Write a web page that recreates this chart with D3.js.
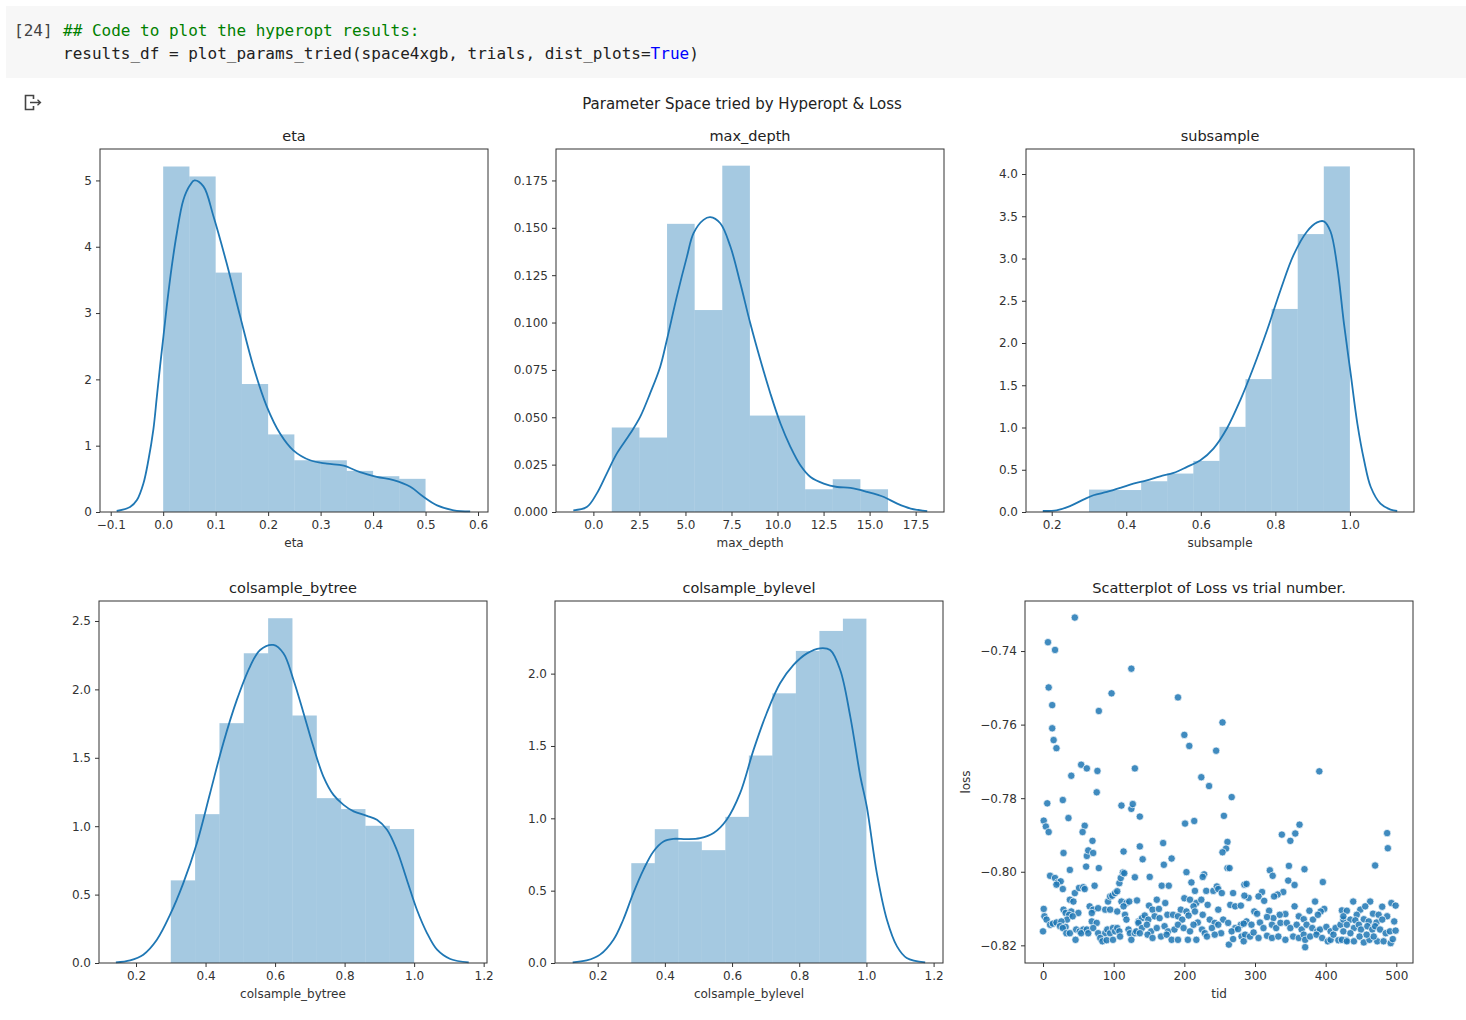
<!DOCTYPE html>
<html><head><meta charset="utf-8">
<script src="https://cdn.jsdelivr.net/npm/d3@7"></script>
<style>
body{margin:0;background:#fff;}
svg{display:block;}
</style></head><body><svg id="c" width="1466" height="1020"></svg>
<script>
// ---------------- DATA ----------------
const etaBins = [0,0.05,0.1,0.15,0.2,0.25,0.3,0.35,0.4,0.45,0.5];
const etaDensity = [5.21,5.06,3.61,1.93,1.17,0.78,0.78,0.62,0.54,0.50];
const etaKdeX = [-0.0886,-0.0631,-0.050,-0.0377,-0.0282,-0.0186,-0.0123,-0.0059,0.0005,0.0068,0.0163,0.0259,0.0386,0.0513,0.0596,0.0767,0.0958,0.121,0.1467,0.172,0.1975,0.223,0.248,0.28,0.312,0.344,0.375,0.407,0.439,0.471,0.496,0.522,0.5536,0.585];
const etaKdeY = [0.015,0.075,0.18,0.43,0.78,1.25,1.72,2.2,2.65,3.10,3.70,4.20,4.71,4.93,5.0,4.91,4.46,3.75,2.95,2.19,1.59,1.18,0.93,0.78,0.73,0.70,0.60,0.53,0.48,0.38,0.23,0.10,0.025,0.01];

const depthBins = [1,2.5,4,5.5,7,8.5,10,11.5,13,14.5,16];
const depthDensity = [0.0446,0.0393,0.1521,0.1066,0.1828,0.0509,0.0509,0.0120,0.0173,0.0120];
const depthKdeX = [-1.09,-0.36,0.18,0.725,1.27,2.0,2.54,3.08,3.63,3.99,4.53,5.08,5.44,5.98,6.35,6.89,7.44,7.98,8.52,9.07,9.61,10.16,10.70,11.24,11.79,12.51,13.24,13.96,14.87,15.78,16.5,17.23,18.13];
const depthKdeY = [0.0009,0.0026,0.0097,0.0203,0.0308,0.0414,0.0502,0.0626,0.0767,0.0908,0.1137,0.1348,0.1472,0.1542,0.1556,0.1524,0.1401,0.1207,0.0996,0.0802,0.0626,0.0467,0.0344,0.0247,0.0185,0.0150,0.0132,0.0127,0.0106,0.0079,0.0044,0.0018,0.0005];

const subBins = [0.3,0.37,0.44,0.51,0.58,0.65,0.72,0.79,0.86,0.93,1.0];
const subDensity = [0.265,0.26,0.364,0.455,0.605,1.008,1.573,2.403,3.289,4.09];
const subKdeX = [0.176,0.213,0.249,0.285,0.312,0.348,0.384,0.419,0.455,0.491,0.527,0.563,0.599,0.634,0.67,0.706,0.742,0.778,0.814,0.849,0.885,0.912,0.93,0.948,0.966,0.984,1.002,1.02,1.038,1.056,1.082,1.109,1.127];
const subKdeY = [0.012,0.02,0.07,0.146,0.198,0.237,0.285,0.336,0.375,0.423,0.462,0.534,0.613,0.751,0.988,1.324,1.719,2.154,2.628,3.043,3.32,3.427,3.44,3.32,2.905,2.233,1.64,1.047,0.613,0.296,0.099,0.028,0.012];

const treeBins = [0.3,0.37,0.44,0.51,0.58,0.65,0.72,0.79,0.86,0.93,1.0];
const treeDensity = [0.604,1.088,1.753,2.264,2.52,1.809,1.205,1.125,1.003,0.979];
const treeKdeX = [0.142,0.183,0.221,0.26,0.298,0.336,0.375,0.413,0.451,0.49,0.528,0.557,0.595,0.624,0.653,0.682,0.71,0.739,0.768,0.797,0.826,0.864,0.893,0.922,0.95,0.979,1.008,1.037,1.066,1.104,1.157];
const treeKdeY = [0.005,0.02,0.061,0.17,0.353,0.584,0.876,1.241,1.607,1.923,2.167,2.288,2.325,2.264,2.069,1.826,1.582,1.363,1.229,1.156,1.108,1.076,1.047,0.974,0.828,0.609,0.389,0.219,0.097,0.029,0.005];

const levelBins = [0.3,0.37,0.44,0.51,0.58,0.65,0.72,0.79,0.86,0.93,1.0];
const levelDensity = [0.69,0.925,0.84,0.78,1.01,1.434,1.864,2.157,2.295,2.38];
const levelKdeX = [0.1255,0.167,0.207,0.247,0.276,0.306,0.336,0.366,0.396,0.425,0.465,0.505,0.545,0.584,0.624,0.664,0.703,0.743,0.783,0.823,0.862,0.892,0.922,0.952,0.982,1.001,1.031,1.061,1.091,1.12,1.175];
const levelKdeY = [0.005,0.018,0.058,0.161,0.299,0.483,0.644,0.771,0.84,0.858,0.856,0.863,0.898,0.99,1.174,1.473,1.726,1.933,2.06,2.14,2.175,2.163,2.025,1.703,1.289,1.082,0.621,0.299,0.115,0.035,0.005];

// trial id / loss pairs
const lossPoints = [
[45,-0.7309],[7,-0.7376],[17,-0.7397],[125,-0.7448],[8,-0.7499],[13,-0.7547],[97,-0.7515],[79,-0.7563],[13,-0.7610],[15,-0.7642],[19,-0.7664],[54,-0.7709],[62,-0.7719],[77,-0.7726],[40,-0.7739],[130,-0.7719],[76,-0.7784],[28,-0.7805],[6,-0.7814],[111,-0.7820],[125,-0.7829],[127,-0.7816],[1,-0.7861],[4,-0.7877],[8,-0.7892],[36,-0.7854],[59,-0.7875],[56,-0.7892],[70,-0.7916],[29,-0.7949],[62,-0.7957],[64,-0.7942],[71,-0.7949],[137,-0.7931],[137,-0.7850],[114,-0.7945],[38,-0.7995],[61,-0.7986],[79,-0.7990],[130,-0.8015],[10,-0.8011],[17,-0.8017],[21,-0.8029],[25,-0.8026],[19,-0.8035],[28,-0.8047],[45,-0.8058],[51,-0.8044],[57,-0.8042],[59,-0.8047],[73,-0.8038],[108,-0.8031],[110,-0.8017],[113,-0.8002],[115,-0.8004],[38,-0.8076],[43,-0.8081],[92,-0.8081],[95,-0.8067],[98,-0.8065],[102,-0.8058],[105,-0.8053],[111,-0.8081],[118,-0.8085],[122,-0.8081],[133,-0.8078],[1,-0.8101],[2,-0.8121],[5,-0.8130],[29,-0.8103],[32,-0.8112],[40,-0.8108],[50,-0.8112],[37,-0.8117],[34,-0.8130],[66,-0.8094],[71,-0.8103],[69,-0.8112],[78,-0.8099],[88,-0.8103],[95,-0.8103],[105,-0.8108],[114,-0.8094],[116,-0.8117],[118,-0.8130],[135,-0.8135],[42,-0.8121],[69,-0.8135],[76,-0.8139],[10,-0.8144],[14,-0.8141],[19,-0.8138],[26,-0.8135],[24,-0.8148],[32,-0.8150],[28,-0.8153],[0,-0.8162],[33,-0.8167],[38,-0.8167],[47,-0.8157],[52,-0.8162],[57,-0.8157],[54,-0.8167],[62,-0.8157],[64,-0.8167],[71,-0.8153],[78,-0.8167],[88,-0.8167],[91,-0.8157],[95,-0.8167],[99,-0.8153],[102,-0.8162],[105,-0.8153],[108,-0.8162],[109,-0.8176],[121,-0.8157],[123,-0.8167],[130,-0.8167],[132,-0.8162],[46,-0.8185],[81,-0.8180],[84,-0.8189],[90,-0.8186],[99,-0.8185],[125,-0.8185],
[191,-0.7526],[254,-0.7594],[200,-0.7628],[207,-0.7658],[245,-0.7671],[224,-0.7743],[235,-0.7767],[267,-0.7797],[201,-0.7869],[214,-0.7862],[256,-0.7848],[170,-0.7922],[261,-0.7919],[259,-0.7937],[254,-0.7947],[141,-0.7966],[182,-0.7964],[171,-0.7981],[151,-0.8014],[203,-0.8001],[228,-0.8007],[226,-0.8014],[261,-0.7990],[264,-0.7990],[210,-0.8029],[168,-0.8038],[178,-0.8038],[215,-0.8052],[231,-0.8052],[241,-0.8052],[246,-0.8040],[248,-0.8047],[253,-0.8058],[269,-0.8058],[285,-0.8035],[161,-0.8076],[173,-0.8085],[200,-0.8072],[208,-0.8076],[217,-0.8085],[224,-0.8076],[233,-0.8090],[248,-0.8103],[265,-0.8090],[272,-0.8094],[280,-0.8092],[150,-0.8092],[155,-0.8103],[164,-0.8101],[195,-0.8103],[203,-0.8108],[213,-0.8094],[215,-0.8108],[140,-0.8126],[144,-0.8119],[149,-0.8130],[158,-0.8121],[165,-0.8126],[176,-0.8117],[184,-0.8117],[191,-0.8121],[197,-0.8130],[206,-0.8119],[219,-0.8138],[226,-0.8117],[236,-0.8130],[243,-0.8139],[255,-0.8130],[262,-0.8139],[272,-0.8153],[280,-0.8144],[135,-0.8139],[140,-0.8153],[147,-0.8144],[153,-0.8162],[161,-0.8153],[172,-0.8148],[177,-0.8162],[186,-0.8157],[191,-0.8144],[199,-0.8153],[208,-0.8162],[213,-0.8144],[225,-0.8157],[229,-0.8167],[239,-0.8153],[248,-0.8144],[252,-0.8167],[267,-0.8162],[276,-0.8156],[148,-0.8171],[155,-0.8180],[167,-0.8176],[175,-0.8171],[182,-0.8185],[191,-0.8185],[205,-0.8185],[217,-0.8185],[232,-0.8176],[243,-0.8171],[263,-0.8198],[269,-0.8183],[281,-0.8176],[137,-0.8167],
[391,-0.7727],[338,-0.7899],[357,-0.7896],[363,-0.7872],[350,-0.7916],[348,-0.7984],[321,-0.7996],[325,-0.8011],[370,-0.7993],[396,-0.8028],[288,-0.8033],[347,-0.8024],[356,-0.8036],[340,-0.8055],[332,-0.8062],[327,-0.8067],[310,-0.8055],[305,-0.8067],[313,-0.8079],[291,-0.8071],[285,-0.8065],[385,-0.8081],[356,-0.8094],[377,-0.8106],[398,-0.8101],[393,-0.8108],[423,-0.8105],[320,-0.8106],[299,-0.8108],[303,-0.8114],[343,-0.8115],[335,-0.8117],[326,-0.8126],[317,-0.8123],[362,-0.8121],[369,-0.8129],[382,-0.8130],[389,-0.8117],[288,-0.8135],[284,-0.8141],[295,-0.8144],[307,-0.8138],[312,-0.8153],[324,-0.8144],[330,-0.8153],[336,-0.8139],[345,-0.8139],[350,-0.8153],[359,-0.8144],[366,-0.8157],[373,-0.8144],[381,-0.8153],[388,-0.8162],[392,-0.8157],[401,-0.8150],[407,-0.8162],[414,-0.8153],[421,-0.8144],[425,-0.8130],[286,-0.8171],[293,-0.8176],[298,-0.8165],[305,-0.8180],[317,-0.8174],[324,-0.8180],[333,-0.8176],[343,-0.8185],[354,-0.8176],[362,-0.8180],[369,-0.8171],[371,-0.8185],[371,-0.8205],[378,-0.8176],[387,-0.8171],[395,-0.8180],[403,-0.8189],[407,-0.8185],[411,-0.8171],[418,-0.8186],[429,-0.8186],[284,-0.8189],
[487,-0.7895],[488,-0.7936],[470,-0.7983],[439,-0.8081],[463,-0.8081],[493,-0.8085],[499,-0.8092],[480,-0.8095],[430,-0.8106],[449,-0.8103],[456,-0.8094],[444,-0.8117],[467,-0.8114],[475,-0.8117],[487,-0.8121],[425,-0.8121],[435,-0.8130],[442,-0.8132],[454,-0.8129],[461,-0.8135],[472,-0.8138],[480,-0.8130],[497,-0.8135],[430,-0.8144],[440,-0.8153],[447,-0.8144],[450,-0.8157],[459,-0.8148],[466,-0.8157],[470,-0.8148],[477,-0.8157],[485,-0.8167],[491,-0.8162],[499,-0.8160],[425,-0.8162],[435,-0.8167],[423,-0.8185],[430,-0.8189],[440,-0.8189],[454,-0.8192],[462,-0.8185],[473,-0.8189],[482,-0.8189],[492,-0.8194],[495,-0.8183],[448,-0.8176],[468,-0.8176],[458,-0.8171]
];

// tick values
const etaXTicks = [-0.1,0,0.1,0.2,0.3,0.4,0.5,0.6];
const etaYTicks = [0,1,2,3,4,5];
const depthXTicks = [0,2.5,5,7.5,10,12.5,15,17.5];
const depthYTicks = [0,0.025,0.05,0.075,0.1,0.125,0.15,0.175];
const subXTicks = [0.2,0.4,0.6,0.8,1.0];
const subYTicks = [0,0.5,1,1.5,2,2.5,3,3.5,4];
const treeXTicks = [0.2,0.4,0.6,0.8,1.0,1.2];
const treeYTicks = [0,0.5,1,1.5,2,2.5];
const levelXTicks = [0.2,0.4,0.6,0.8,1.0,1.2];
const levelYTicks = [0,0.5,1,1.5,2];
const tidTicks = [0,100,200,300,400,500];
const lossTicks = [-0.82,-0.80,-0.78,-0.76,-0.74];

const suptitle = "Parameter Space tried by Hyperopt & Loss";
const codeLine1 = "## Code to plot the hyperopt results:";

// ---------------- DRAW ----------------
const svg = d3.select('#c');
const FONT = '"DejaVu Sans", sans-serif';
const MONO = '"DejaVu Sans Mono", "Liberation Mono", monospace';
const BLUE = '#1f77b4';

// notebook cell
svg.append('rect').attr('x',6).attr('y',6).attr('width',1460).attr('height',72).attr('fill','#f7f7f7');
svg.append('text').attr('x',14).attr('y',36).style('font-family',MONO).style('font-size','16px').attr('fill','#424242').text('[24]');
svg.append('text').attr('x',63).attr('y',36).style('font-family',MONO).style('font-size','16px').attr('fill','#008000').attr('xml:space','preserve').text(codeLine1);
const l2 = svg.append('text').attr('x',63).attr('y',59).style('font-family',MONO).style('font-size','16px').attr('fill','#212121').attr('xml:space','preserve');
l2.append('tspan').text('results_df = plot_params_tried(space4xgb, trials, dist_plots=');
l2.append('tspan').attr('fill','#0000ff').text('True');
l2.append('tspan').text(')');
// output icon
svg.append('path').attr('d','M33.5,99 V95.5 H25.5 V109.5 H33.5 V106').attr('fill','none').attr('stroke','#444').attr('stroke-width',1.6);
svg.append('path').attr('d','M30,102.5 H40.5 M37.5,99.8 L40.5,102.5 L37.5,105.2').attr('fill','none').attr('stroke','#444').attr('stroke-width',1.3);

// suptitle
svg.append('text').attr('x',742).attr('y',109).attr('text-anchor','middle').style('font-family',FONT).style('font-size','15px').attr('fill','#222').text(suptitle);

const f1 = d3.format('.1f'), f3 = d3.format('.3f'), fd = d3.format('d'), f2 = d3.format('.2f');

const panels = [
  {title:'eta', xlabel:'eta', bins:etaBins, dens:etaDensity, kx:etaKdeX, ky:etaKdeY, xdom:[-0.1204,0.619], ydom:[0,5.474], xt:etaXTicks, yt:etaYTicks, xf:f1, yf:fd, box:[100,149,388,363]},
  {title:'max_depth', xlabel:'max_depth', bins:depthBins, dens:depthDensity, kx:depthKdeX, ky:depthKdeY, xdom:[-2.03,19.04], ydom:[0,0.1916], xt:depthXTicks, yt:depthYTicks, xf:f1, yf:f3, box:[556,149,388,363]},
  {title:'subsample', xlabel:'subsample', bins:subBins, dens:subDensity, kx:subKdeX, ky:subKdeY, xdom:[0.131,1.172], ydom:[0,4.296], xt:subXTicks, yt:subYTicks, xf:f1, yf:f1, box:[1026,149,388,363]},
  {title:'colsample_bytree', xlabel:'colsample_bytree', bins:treeBins, dens:treeDensity, kx:treeKdeX, ky:treeKdeY, xdom:[0.0935,1.2096], ydom:[0,2.646], xt:treeXTicks, yt:treeYTicks, xf:f1, yf:f1, box:[99,601,388,362]},
  {title:'colsample_bylevel', xlabel:'colsample_bylevel', bins:levelBins, dens:levelDensity, kx:levelKdeX, ky:levelKdeY, xdom:[0.0729,1.228], ydom:[0,2.502], xt:levelXTicks, yt:levelYTicks, xf:f1, yf:f1, box:[555,601,388,362]}
];

function frame(g, x, y, p){
  const [L,T,W,H] = p.box;
  const ax = g.append('g').attr('transform',`translate(0,${T+H})`)
    .call(d3.axisBottom(x).tickValues(p.xt).tickFormat(p.xf).tickSize(4).tickPadding(4.5));
  const ay = g.append('g').attr('transform',`translate(${L},0)`)
    .call(d3.axisLeft(y).tickValues(p.yt).tickFormat(p.yf).tickSize(4).tickPadding(4));
  [ax,ay].forEach(a=>{
    a.select('.domain').remove();
    a.selectAll('line').attr('stroke','#333').attr('stroke-width',1);
    a.selectAll('text').attr('fill','#333').style('font-size','12px').style('font-family',FONT);
  });
  g.append('rect').attr('x',L).attr('y',T).attr('width',W).attr('height',H)
    .attr('fill','none').attr('stroke','#333').attr('stroke-width',1);
  g.append('text').attr('x',L+W/2).attr('y',T-8).attr('text-anchor','middle')
    .style('font-family',FONT).style('font-size','14.5px').attr('fill','#222').text(p.title);
  g.append('text').attr('x',L+W/2).attr('y',T+H+35).attr('text-anchor','middle')
    .style('font-family',FONT).style('font-size','12px').attr('fill','#333').text(p.xlabel);
}

panels.forEach(p=>{
  const [L,T,W,H] = p.box;
  const x = d3.scaleLinear().domain(p.xdom).range([L,L+W]);
  const y = d3.scaleLinear().domain(p.ydom).range([T+H,T]);
  const g = svg.append('g');
  g.selectAll('rect.bar').data(p.dens).join('rect').attr('class','bar')
    .attr('x',(d,i)=>x(p.bins[i])).attr('width',(d,i)=>x(p.bins[i+1])-x(p.bins[i]))
    .attr('y',d=>y(d)).attr('height',d=>y(0)-y(d))
    .attr('fill',BLUE).attr('fill-opacity',0.4);
  const line = d3.line().x(d=>x(d[0])).y(d=>y(d[1])).curve(d3.curveCatmullRom.alpha(0.5));
  g.append('path').datum(p.kx.map((v,i)=>[v,p.ky[i]])).attr('d',line)
    .attr('fill','none').attr('stroke',BLUE).attr('stroke-width',1.8);
  frame(g,x,y,p);
});

// scatter
{
  const p = {title:'Scatterplot of Loss vs trial number.', xlabel:'tid', xt:tidTicks, yt:lossTicks, xf:fd, yf:f2, box:[1025,601,388,362]};
  const [L,T,W,H] = p.box;
  const x = d3.scaleLinear().domain([-25.5,523.6]).range([L,L+W]);
  const y = d3.scaleLinear().domain([-0.8248,-0.7264]).range([T+H,T]);
  const g = svg.append('g');
  g.selectAll('circle').data(lossPoints).join('circle')
    .attr('cx',d=>x(d[0])).attr('cy',d=>y(d[1])).attr('r',3.7)
    .attr('fill',BLUE).attr('fill-opacity',0.85).attr('stroke','#fff').attr('stroke-width',0.7);
  frame(g,x,y,p);
  g.append('text').attr('transform',`translate(970,${T+H/2}) rotate(-90)`).attr('text-anchor','middle')
    .style('font-family',FONT).style('font-size','12px').attr('fill','#333').text('loss');
}
</script></body></html>
